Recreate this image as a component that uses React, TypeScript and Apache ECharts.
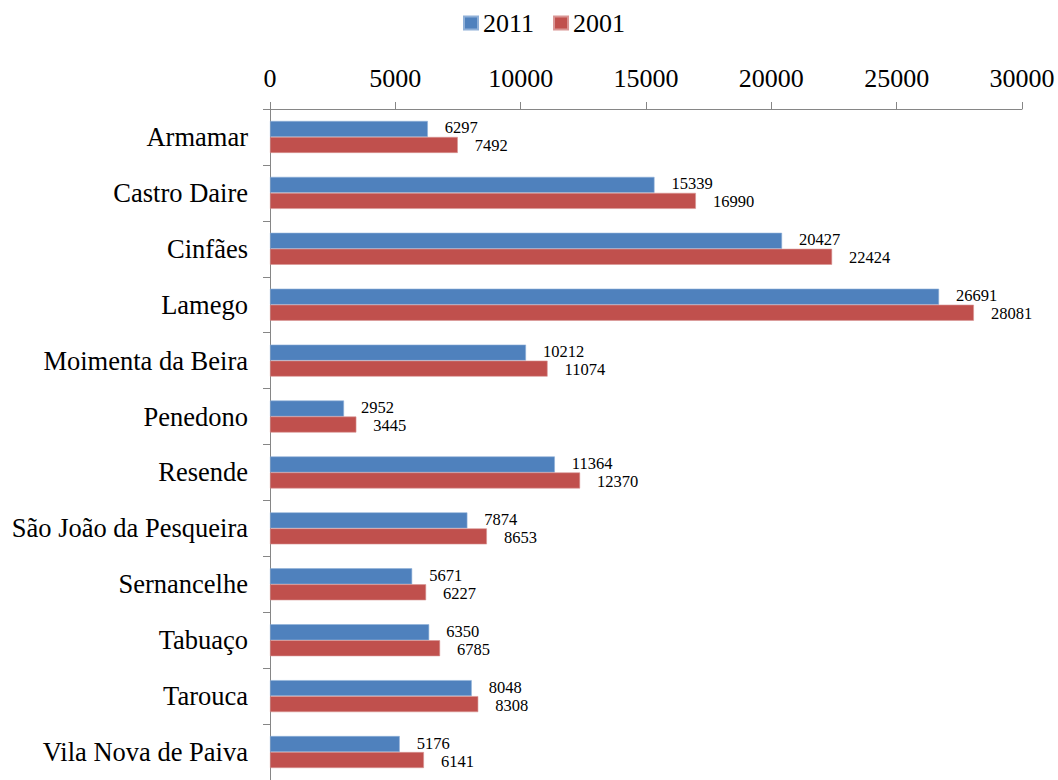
import React, { useEffect, useRef } from "react";
import * as echarts from "echarts";

const categories = [
  "Armamar",
  "Castro Daire",
  "Cinfães",
  "Lamego",
  "Moimenta da Beira",
  "Penedono",
  "Resende",
  "São João da Pesqueira",
  "Sernancelhe",
  "Tabuaço",
  "Tarouca",
  "Vila Nova de Paiva",
];

const values2011 = [6297, 15339, 20427, 26691, 10212, 2952, 11364, 7874, 5671, 6350, 8048, 5176];
const values2001 = [7492, 16990, 22424, 28081, 11074, 3445, 12370, 8653, 6227, 6785, 8308, 6141];

const FONT = "Liberation Serif";

export default function App() {
  const ref = useRef<HTMLDivElement>(null);

  useEffect(() => {
    if (!ref.current) return;
    const chart = echarts.init(ref.current, undefined, { renderer: "svg" });
    const labelCfg = (dy: number) => ({
      show: true,
      position: "right",
      distance: 17,
      offset: [0, dy],
      color: "#000",
      fontSize: 16.5,
      lineHeight: 14,
      fontFamily: FONT,
    });
    chart.setOption({
      animation: false,
      backgroundColor: "#fff",
      textStyle: { fontFamily: FONT },
      legend: {
        left: 458,
        top: 5,
        itemWidth: 14,
        itemHeight: 13,
        itemGap: 19,
        icon: "rect",
        textStyle: { fontSize: 26, color: "#000", fontFamily: FONT },
        data: ["2011", "2001"],
      },
      grid: { left: 270, top: 109, width: 752, height: 679, containLabel: false },
      xAxis: {
        type: "value",
        position: "top",
        min: 0,
        max: 30000,
        interval: 5000,
        axisLine: { show: true, lineStyle: { color: "#868686", width: 1 } },
        axisTick: { show: true, length: 7, lineStyle: { color: "#868686" } },
        splitLine: { show: false },
        axisLabel: {
          color: "#000",
          fontSize: 26,
          fontFamily: FONT,
          margin: 18,
          formatter: (v: number) => String(v),
        },
      },
      yAxis: {
        type: "category",
        inverse: true,
        data: categories,
        axisLine: { show: true, lineStyle: { color: "#868686", width: 1 } },
        axisTick: { show: true, length: 7, lineStyle: { color: "#868686" } },
        axisLabel: { color: "#000", fontSize: 26.5, fontFamily: FONT, margin: 22 },
      },
      series: [
        {
          name: "2011",
          type: "bar",
          data: values2011,
          barWidth: 16,
          barGap: "0%",
          itemStyle: { color: "#4F81BD", borderColor: "#8fb0d8", borderWidth: 0.6 },
          label: labelCfg(-1),
        },
        {
          name: "2001",
          type: "bar",
          data: values2001,
          barWidth: 16,
          barGap: "0%",
          itemStyle: { color: "#C0504D", borderColor: "#d99594", borderWidth: 0.6 },
          label: labelCfg(1),
        },
      ],
    });
    return () => chart.dispose();
  }, []);

  return (
    <div
      ref={ref}
      style={{ position: "absolute", left: 0, top: 0, width: 1058, height: 780 }}
    />
  );
}
